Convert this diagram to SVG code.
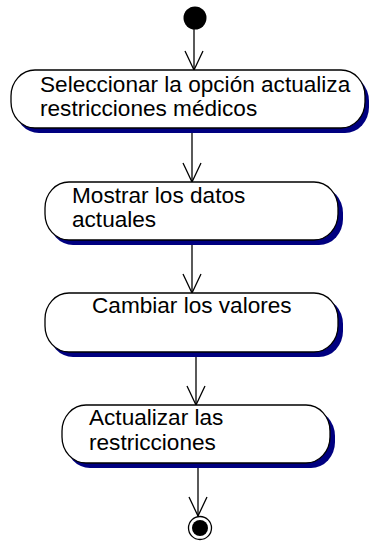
<svg xmlns="http://www.w3.org/2000/svg" width="369" height="541" viewBox="0 0 369 541">
<defs>
<style>
.node{fill:#ffffff;stroke:#000000;stroke-width:1.3}
.shadow{fill:#000080;stroke:none}
.lbl{font-family:"Liberation Sans",Arial,sans-serif;font-size:22.6px;fill:#000000}
.edge{stroke:#000000;stroke-width:1.3;fill:none}
</style>
<marker id="arr" markerWidth="22" markerHeight="20" refX="20" refY="10" orient="auto" markerUnits="userSpaceOnUse" viewBox="0 0 22 20">
<path d="M1,1 L20,10 L1,19" fill="none" stroke="#000000" stroke-width="1.3"/>
</marker>
</defs>
<rect width="369" height="541" fill="#ffffff"/>
<g id="connectors">
<line class="edge" x1="194" y1="29" x2="194" y2="70" marker-end="url(#arr)"/>
<line class="edge" x1="192" y1="133" x2="192" y2="182" marker-end="url(#arr)"/>
<line class="edge" x1="192" y1="245" x2="192" y2="293" marker-end="url(#arr)"/>
<line class="edge" x1="196" y1="357" x2="196" y2="405" marker-end="url(#arr)"/>
<line class="edge" x1="198" y1="468" x2="198" y2="516" marker-end="url(#arr)"/>
</g>
<g id="start">
<circle cx="195" cy="18" r="11.5" fill="#000000"/>
</g>
<g id="n1">
<rect class="shadow" x="15" y="75" width="354" height="58" rx="24" ry="26"/>
<rect class="node" x="11" y="70" width="354" height="58" rx="24" ry="26"/>
<text class="lbl" x="40" y="92">Seleccionar la opción actualiza</text>
<text class="lbl" x="40" y="116">restricciones médicos</text>
</g>
<g id="n2">
<rect class="shadow" x="49" y="187" width="294" height="58" rx="24" ry="26"/>
<rect class="node" x="45" y="182" width="293" height="58" rx="24" ry="26"/>
<text class="lbl" x="72" y="203">Mostrar los datos</text>
<text class="lbl" x="72" y="227">actuales</text>
</g>
<g id="n3">
<rect class="shadow" x="49" y="298" width="294" height="59" rx="24" ry="26"/>
<rect class="node" x="45" y="293" width="293" height="59" rx="24" ry="26"/>
<text class="lbl" x="92" y="313">Cambiar los valores</text>
</g>
<g id="n4">
<rect class="shadow" x="66" y="410" width="269" height="58" rx="24" ry="26"/>
<rect class="node" x="62" y="405" width="268" height="58" rx="24" ry="26"/>
<text class="lbl" x="89" y="425">Actualizar las</text>
<text class="lbl" x="89" y="450">restricciones</text>
</g>
<g id="end">
<circle cx="200" cy="528" r="11.5" fill="#ffffff" stroke="#000000" stroke-width="1.3"/>
<circle cx="200" cy="528" r="8" fill="#000000"/>
</g>
</svg>
